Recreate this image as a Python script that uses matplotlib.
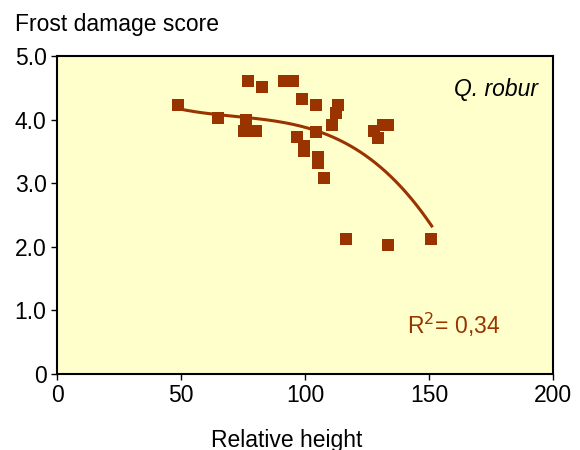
import numpy as np
import matplotlib
matplotlib.use("Agg")
import matplotlib.pyplot as plt

# Data
rel_height = [48.8, 65.0, 75.4, 76.1, 77.1, 80.1, 82.5, 91.5, 95.0, 96.9, 98.6, 99.4, 99.4,
              104.3, 104.3, 105.1, 105.1, 107.8, 110.8, 112.4, 113.2, 116.4, 127.8, 129.3,
              131.5, 133.5, 133.3, 151.0]
frost_score = [4.23, 4.02, 3.82, 3.99, 4.61, 3.82, 4.51, 4.61, 4.61, 3.72, 4.32, 3.59, 3.51,
               4.23, 3.81, 3.41, 3.31, 3.08, 3.91, 4.10, 4.23, 2.12, 3.82, 3.71,
               3.91, 3.91, 2.03, 2.12]
# Trend line as drawn in the reference
trend_x = [48.9, 53.6, 59.0, 65.7, 72.4, 80.5, 85.9, 92.6, 99.3, 104.7, 107.4, 114.1,
           119.5, 126.2, 132.9, 139.6, 146.4, 151.1]
trend_y = [4.18, 4.14, 4.10, 4.06, 4.04, 4.02, 4.00, 3.94, 3.89, 3.84, 3.78, 3.68,
           3.55, 3.39, 3.16, 2.89, 2.58, 2.34]
x_ticks = [0, 50, 100, 150, 200]
y_ticks = [0, 1, 2, 3, 4, 5]
y_tick_labels = ["0", "1.0", "2.0", "3.0", "4.0", "5.0"]

plt.rcParams['font.family'] = ['Liberation Sans', 'DejaVu Sans']
brown = "#993300"

fig = plt.figure(figsize=(5.8, 4.5), dpi=100)
ax = fig.add_axes([57/580, 1-374/450, (553-57)/580, (374-56)/450])
ax.set_facecolor("#FFFFCC")

ax.scatter(rel_height, frost_score, marker="s", s=8.6**2, color=brown, linewidths=0, zorder=3)

coef = np.polyfit(trend_x, trend_y, 3)
xs = np.linspace(min(trend_x), max(trend_x), 200)
ax.plot(xs, np.polyval(coef, xs), color=brown, lw=2.2, zorder=2)

ax.set_xlim(0, 200)
ax.set_ylim(0, 5)
ax.set_xticks(x_ticks)
ax.set_xticklabels([str(v) for v in x_ticks])
ax.set_yticks(y_ticks)
ax.set_yticklabels(y_tick_labels)
ax.tick_params(direction="out", length=4.5, width=1, labelsize=16.5, pad=3)
for s in ax.spines.values():
    s.set_linewidth(1.5)

ax.text(0.97, 0.895, "Q. robur", transform=ax.transAxes, ha="right", va="center",
        fontsize=16.5, style="italic")
ax.text(0.705, 0.155, "R$^2$= 0,34", transform=ax.transAxes, ha="left", va="center",
        fontsize=16.5, color=brown)

fig.text(15/580, 1-24/450, "Frost damage score", ha="left", va="center", fontsize=16.5)
fig.text(287/580, 1-440/450, "Relative height", ha="center", va="center", fontsize=16.5)

fig.savefig("out.png", dpi=100, facecolor="white")
